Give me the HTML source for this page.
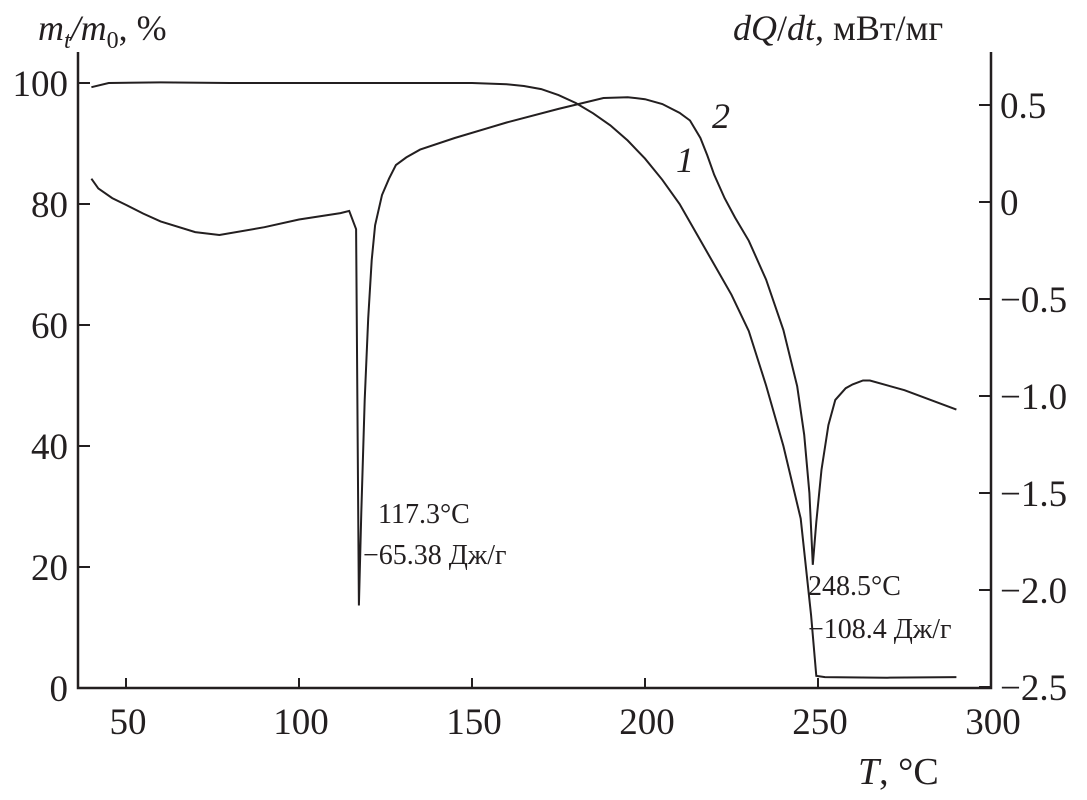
<!DOCTYPE html>
<html><head><meta charset="utf-8"><style>
body{margin:0;background:#fff}
svg{display:block;font-family:"Liberation Serif",serif;fill:#231f20}
</style></head><body>
<svg width="1087" height="800">
<g id="axes" stroke="#231f20" stroke-width="2.5" fill="none"></g>
<g id="ticks"></g>
<g id="curves" fill="none" stroke="#231f20" stroke-width="2"></g>
<text x="38" y="40" font-size="36" font-style="italic">m<tspan font-size="24" dy="8">t</tspan><tspan dy="-8">/m</tspan><tspan font-size="24" dy="8" font-style="normal">0</tspan><tspan dy="-8" font-style="normal">, %</tspan></text>
<text x="733" y="40" font-size="36"><tspan font-style="italic">dQ</tspan>/<tspan font-style="italic">dt</tspan>, мВт/мг</text>
<text x="858" y="784" font-size="38"><tspan font-style="italic">T</tspan>, °C</text>
<text x="676" y="172" font-size="36" font-style="italic">1</text>
<text x="712" y="128" font-size="36" font-style="italic">2</text>
<text x="378" y="523" font-size="28">117.3°C</text>
<text x="363" y="564" font-size="28">−65.38 Дж/г</text>
<text x="808" y="595" font-size="28">248.5°C</text>
<text x="808" y="638" font-size="28">−108.4 Дж/г</text>
</svg>
<script>
const xTicks=[50,100,150,200,250,300];
const leftTicks=[0,20,40,60,80,100];
const rightTicks=[0.5,0,-0.5,-1.0,-1.5,-2.0,-2.5];
const rightLabels=["0.5","0","−0.5","−1.0","−1.5","−2.0","−2.5"];
const tgT=[40,45,60,80,100,120,150,160,165,170,175,180,185,190,195,200,205,210,215,220,225,230,235,240,245,248,249.5,252,270,290];
const tgV=[99.3,100,100.1,100,100,100,100,99.8,99.5,99,98,96.7,95,93,90.5,87.5,84,80,75,70,65,59,50,40,28,12,2,1.8,1.7,1.8];
const dscT=[40,42,46,50,55,60,70,77,90,100,112,114.5,116.5,117.3,118,119,120,121,122,124,126,128,131,135,145,160,175,188,195,200,205,210,213,216,218,220,223,226,230,235,240,244,246,247.5,248.5,249.5,251,253,255,258,260,263,265,275,290];
const dscV=[0.12,0.07,0.02,-0.015,-0.06,-0.10,-0.155,-0.17,-0.13,-0.09,-0.057,-0.046,-0.14,-2.08,-1.6,-1.02,-0.6,-0.30,-0.12,0.036,0.12,0.19,0.23,0.27,0.33,0.41,0.48,0.536,0.54,0.53,0.505,0.46,0.42,0.33,0.24,0.14,0.02,-0.08,-0.20,-0.40,-0.66,-0.95,-1.2,-1.5,-1.87,-1.65,-1.38,-1.15,-1.02,-0.96,-0.94,-0.92,-0.92,-0.97,-1.07];
const NS="http://www.w3.org/2000/svg";
const X=t=>818+(t-250)*173/50;
const YL=v=>688-v*6.05;
const YR=v=>202-v*194;
const L=78,R=991,B=688;
function mk(tag,attrs,parent,txt){const e=document.createElementNS(NS,tag);for(const k in attrs)e.setAttribute(k,attrs[k]);if(txt!==undefined)e.textContent=txt;document.getElementById(parent).appendChild(e);return e;}
const ax=mk('path',{d:`M${L},52V${B}H${R}V52`},'axes');


xTicks.forEach(t=>{const l=mk('line',{x1:X(t),x2:X(t),y1:B,y2:B-10,stroke:'#231f20','stroke-width':2},'ticks');


const tx=mk('text',{x:X(t)+2,y:734,'font-size':37,'text-anchor':'middle'},'ticks',String(t));

});
leftTicks.forEach(v=>{const l=mk('line',{x1:L,x2:L+12,y1:YL(v),y2:YL(v),stroke:'#231f20','stroke-width':2},'ticks');


const tx=mk('text',{x:68,y:YL(v)+13,'font-size':37,'text-anchor':'end'},'ticks',String(v));

});
rightTicks.forEach((v,i)=>{const l=mk('line',{x1:R-12,x2:R,y1:YR(v),y2:YR(v),stroke:'#231f20','stroke-width':2},'ticks');


const tx=mk('text',{x:1000,y:YR(v)+13,'font-size':37},'ticks',rightLabels[i]);

});
const p1=mk('path',{d:'M'+tgT.map((t,i)=>X(t).toFixed(1)+','+YL(tgV[i]).toFixed(1)).join('L')},'curves');


const p2=mk('path',{d:'M'+dscT.map((t,i)=>X(t).toFixed(1)+','+YR(dscV[i]).toFixed(1)).join('L')},'curves');


</script>
</body></html>
